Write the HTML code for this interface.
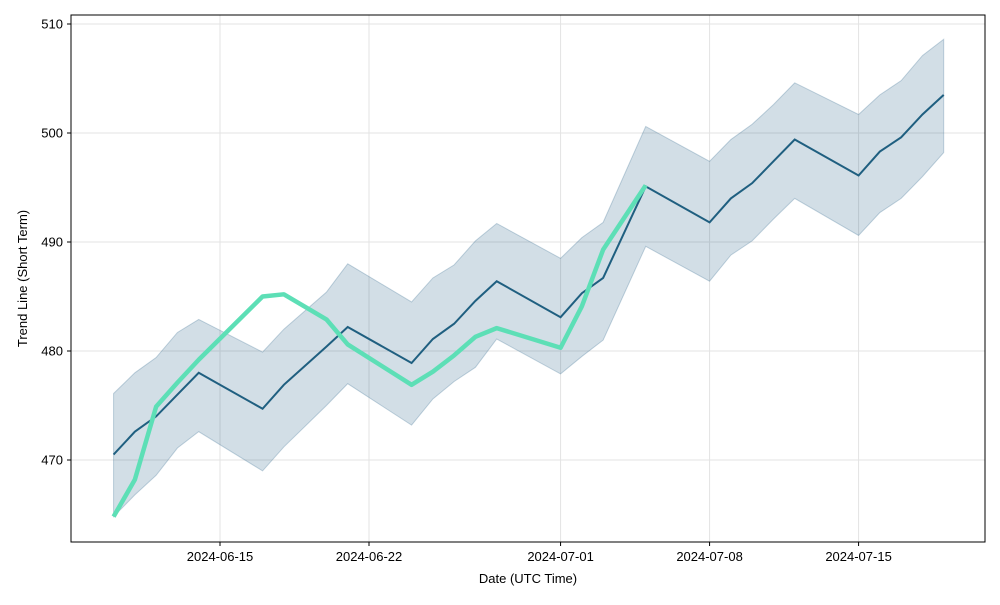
<!DOCTYPE html>
<html><head><meta charset="utf-8"><style>
body{margin:0;background:#fff;font-family:"Liberation Sans",sans-serif}
svg text{font-family:"Liberation Sans",sans-serif;font-size:13px;fill:#000}
</style></head><body>
<svg id="c" width="1000" height="600"></svg>
<script>
const dates=["2024-06-10","2024-06-11","2024-06-12","2024-06-13","2024-06-14","2024-06-17","2024-06-18","2024-06-20","2024-06-21","2024-06-24","2024-06-25","2024-06-26","2024-06-27","2024-06-28","2024-07-01","2024-07-02","2024-07-03","2024-07-05","2024-07-08","2024-07-09","2024-07-10","2024-07-11","2024-07-12","2024-07-15","2024-07-16","2024-07-17","2024-07-18","2024-07-19"];
const trend=[470.5,472.6,474.0,476.0,478.0,474.7,476.9,480.4,482.2,478.9,481.1,482.5,484.6,486.4,483.1,485.3,486.7,495.1,491.8,494.0,495.4,497.4,499.4,496.1,498.3,499.6,501.7,503.5];
const upper=[476.1,478.0,479.4,481.7,482.9,479.9,482.0,485.4,488.0,484.5,486.7,487.9,490.1,491.7,488.5,490.4,491.8,500.6,497.4,499.4,500.8,502.6,504.6,501.7,503.5,504.8,507.1,508.6];
const lower=[464.8,466.8,468.6,471.1,472.6,469.0,471.2,475.0,477.0,473.2,475.6,477.2,478.5,481.1,477.9,479.5,481.0,489.6,486.4,488.8,490.1,492.1,494.0,490.6,492.7,494.0,496.0,498.2];
const actual=[464.8,468.2,474.9,477.1,479.2,485.0,485.2,482.9,480.6,476.9,478.1,479.6,481.3,482.1,480.3,484.1,489.3,495.2];
const yTicks=[470,480,490,500,510];
const xTicks=["2024-06-15","2024-06-22","2024-07-01","2024-07-08","2024-07-15"];

const NS="http://www.w3.org/2000/svg",svg=document.getElementById("c");
const L=71,R=985,T=15,B=542;
const d0=Date.UTC(2024,5,15);
function dayOf(s){const p=s.split("-");return (Date.UTC(+p[0],p[1]-1,+p[2])-d0)/864e5;}
const X=s=>220+dayOf(s)*149/7;
const Y=v=>133+(500-v)*10.9;
function el(t,a,p){const e=document.createElementNS(NS,t);for(const k in a)e.setAttribute(k,a[k]);(p||svg).appendChild(e);return e;}
// grid
yTicks.forEach(v=>{const g=el("line",{x1:L,x2:R,y1:Y(v),y2:Y(v),stroke:"#e3e3e3","stroke-width":1});


el("line",{x1:L-4,x2:L,y1:Y(v),y2:Y(v),stroke:"#000"});
const t=el("text",{x:L-8,y:Y(v)+4.5,"text-anchor":"end"});t.textContent=v;

});
xTicks.forEach(s=>{const x=X(s);const g=el("line",{x1:x,x2:x,y1:T,y2:B,stroke:"#e3e3e3"});


el("line",{x1:x,x2:x,y1:B,y2:B+4,stroke:"#000"});
const t=el("text",{x:x,y:B+19,"text-anchor":"middle"});t.textContent=s;

});
// band
let pts=dates.map((d,i)=>X(d)+","+Y(upper[i]));
for(let i=dates.length-1;i>=0;i--)pts.push(X(dates[i])+","+Y(lower[i]));
const band=el("polygon",{points:pts.join(" "),fill:"rgba(32,90,130,0.2)",stroke:"rgba(32,90,130,0.25)"});


const tl=el("polyline",{points:dates.map((d,i)=>X(d)+","+Y(trend[i])).join(" "),fill:"none",stroke:"#1f5f80","stroke-width":2});


const al=el("polyline",{points:actual.map((v,i)=>X(dates[i])+","+Y(v)).join(" "),fill:"none",stroke:"#5ddfb6","stroke-width":4.5,"stroke-linejoin":"round"});


const fr=el("rect",{x:L,y:T,width:R-L,height:B-T,fill:"none",stroke:"#000","stroke-width":1});


const xt=el("text",{x:(L+R)/2,y:583,"text-anchor":"middle"});xt.textContent="Date (UTC Time)";


const yt=el("text",{x:0,y:0,"text-anchor":"middle",transform:"translate(27,"+((T+B)/2)+") rotate(-90)"});yt.textContent="Trend Line (Short Term)";


</script>
</body></html>
